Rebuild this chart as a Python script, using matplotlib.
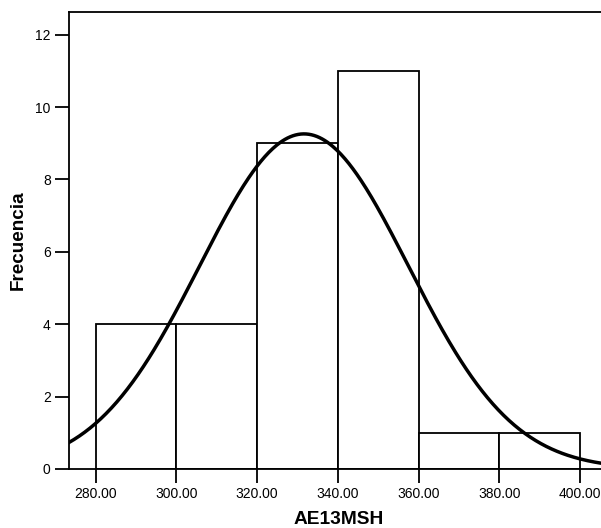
import numpy as np
import matplotlib
matplotlib.use("Agg")
import matplotlib.pyplot as plt

plt.rcParams['font.family'] = ['Liberation Sans', 'DejaVu Sans']

bin_edges = [280, 300, 320, 340, 360, 380, 400]
counts = [4, 4, 9, 11, 1, 1]
curve_mean = 331.6
curve_sd = 25.85
n_total = 30
bin_width = 20
x_ticks = [280, 300, 320, 340, 360, 380, 400]
x_tick_labels = ["280.00", "300.00", "320.00", "340.00", "360.00", "380.00", "400.00"]
y_ticks = [0, 2, 4, 6, 8, 10, 12]

fig = plt.figure(figsize=(6.01, 5.28), dpi=100)
W, H = 601, 528
left, right, bottom, top = 68.7, 601, 469, 12.3
ax = fig.add_axes([left / W, 1 - bottom / H, (right - left) / W, (bottom - top) / H])

lefts = bin_edges[:-1]
ax.bar(lefts, counts, width=np.diff(bin_edges), align='edge', facecolor='white',
       edgecolor='black', linewidth=1.3, zorder=2)

xs = np.linspace(273.3, 405.2, 400)
ys = n_total * bin_width / (curve_sd * np.sqrt(2 * np.pi)) * np.exp(-0.5 * ((xs - curve_mean) / curve_sd) ** 2)
ax.plot(xs, ys, color='black', linewidth=2.5, zorder=3, clip_on=True)

ax.set_xlim(273.3, 405.2)
ax.set_ylim(0, 12.62)
ax.set_xticks(x_ticks)
ax.set_xticklabels(x_tick_labels)
ax.set_yticks(y_ticks)
ax.tick_params(direction='out', length=10, width=1.3, labelsize=10, pad=3, color='black')
ax.spines['right'].set_visible(False)
for s in ['left', 'top', 'bottom']:
    ax.spines[s].set_linewidth(1.3)

ax.set_xlabel("AE13MSH", fontsize=13.8, fontweight='bold')
ax.set_ylabel("Frecuencia", fontsize=13.6, fontweight='bold')
ax.xaxis.label.set_va('center')
ax.yaxis.label.set_va('center')
ax.xaxis.set_label_coords((339 - left) / (right - left), (bottom - 520) / (bottom - top))
ax.yaxis.set_label_coords((18.5 - left) / (right - left), (bottom - 240) / (bottom - top))

fig.savefig("out.png", dpi=100)
